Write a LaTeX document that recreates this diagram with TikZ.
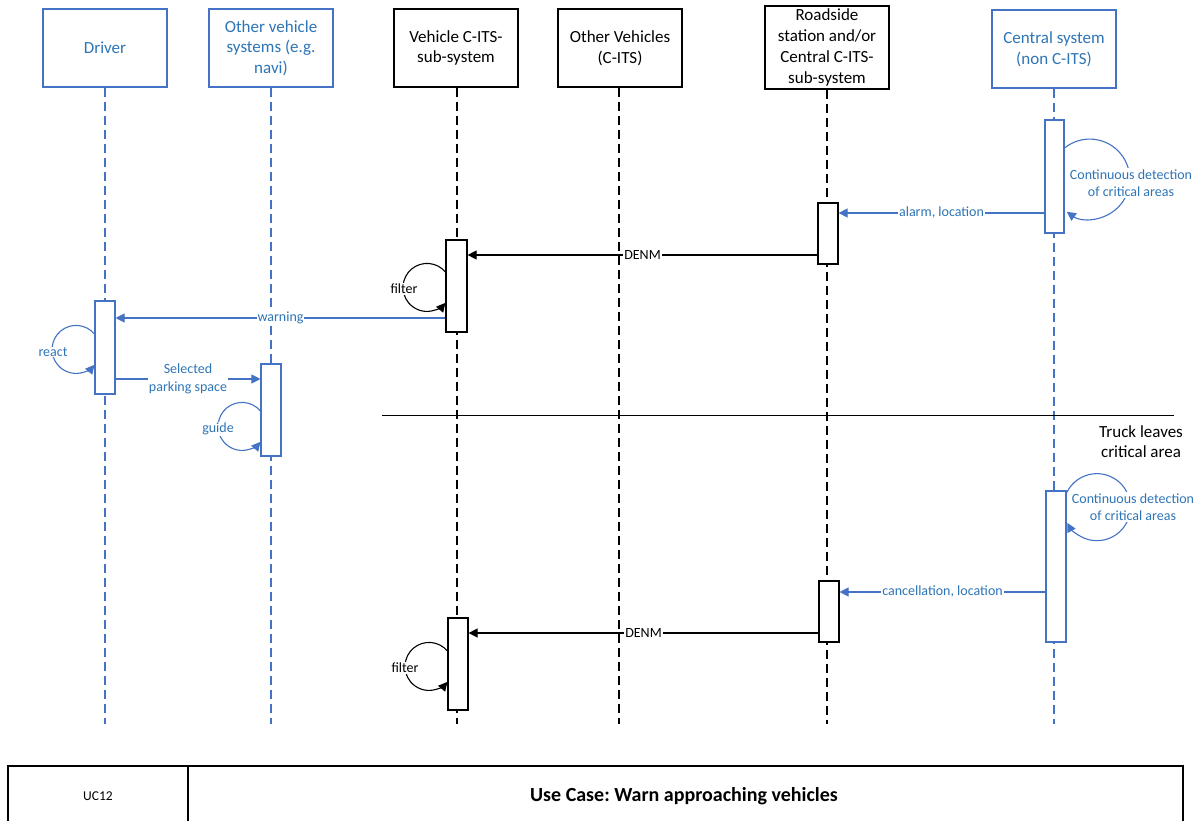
\documentclass[tikz,border=0pt]{standalone}
\usepackage{fontspec}
\setmainfont{Carlito}
\usetikzlibrary{arrows.meta}
\definecolor{lblue}{HTML}{4472C4}
\definecolor{tblue}{HTML}{2E75B6}
\frenchspacing
\begin{document}
\begin{tikzpicture}[x=1pt,y=-1pt,
  hdr/.style={draw, line width=1.2pt, minimum width=124pt, minimum height=78pt, align=center, inner sep=0pt, font=\fontsize{17}{20.7}\selectfont},
  hdrb/.style={hdr, draw=lblue, line width=1.1pt, text=tblue},
  life/.style={line width=1.2pt, dash pattern=on 9pt off 5pt},
  lifeb/.style={life, draw=lblue, line width=1.1pt},
  bar/.style={draw, fill=white, line width=1.2pt, minimum width=20pt, inner sep=0pt},
  barb/.style={bar, draw=lblue, line width=1.1pt},
  msg/.style={line width=1.2pt, -{Triangle[length=9pt,width=9pt]}},
  msgb/.style={msg, draw=lblue, line width=1.1pt},
  selfmsg/.style={line width=1.1pt, -{Triangle[length=9pt,width=9pt]}},
  selfmsgb/.style={selfmsg, draw=lblue},
  lbl/.style={fill=white, inner sep=1pt, font=\fontsize{14}{17.5}\selectfont, align=center},
  lblb/.style={lbl, text=tblue},
]
\useasboundingbox[fill=white] (0,0) rectangle (1204,821);

% header boxes
\node[hdrb] (drv) at (105,48) {Driver};
\node[hdrb] (ovs) at (271,48) {Other vehicle\\systems (e.g.\\navi)};
\node[hdr] (veh) at (456,48) {Vehicle C-ITS-\\sub-system};
\node[hdr] (ov) at (620,48) {Other Vehicles\\(C-ITS)};
\node[hdr, minimum height=83pt] (rs) at (827,47.5) {Roadside\\station and/or\\Central C-ITS-\\sub-system};
\node[hdrb] (cs) at (1054,49) {Central system\\(non C-ITS)};

% lifelines
\draw[lifeb] (drv.south) -- (drv.south |- 0,724);
\draw[lifeb] (ovs.south) -- (ovs.south |- 0,724);
\draw[life] (veh.south -| 457,0) -- (457,724);
\draw[life] (ov.south -| 619,0) -- (619,724);
\draw[life] (rs.south) -- (rs.south |- 0,724);
\draw[lifeb] (cs.south) -- (cs.south |- 0,724);

% activation bars
\node[barb, minimum width=19pt, minimum height=113pt] (cb1) at (1054.5,176.5) {};
\node[bar, minimum height=61pt] (rb1) at (828,233.5) {};
\node[bar, minimum width=21pt, minimum height=92pt] (vb1) at (456.5,286) {};
\node[barb, minimum height=93pt] (db) at (105,347.5) {};
\node[barb, minimum height=92pt] (ob) at (271,410) {};
\node[barb, minimum height=151pt] (cb2) at (1056,566.5) {};
\node[bar, minimum height=61pt] (rb2) at (829,611.5) {};
\node[bar, minimum height=92pt] (vb2) at (458,664) {};

% messages
\draw[msgb] (cb1.west |- 0,213) -- node[lblb]{alarm, location} (rb1.east |- 0,213);
\draw[msg] (rb1.west |- 0,255) -- node[lbl]{DENM} (vb1.east |- 0,255);
\draw[msgb] (vb1.west |- 0,318) -- node[lblb]{warning} (db.east |- 0,318);
\draw[msgb] (db.east |- 0,379) -- node[lblb]{Selected\\parking space} (ob.west |- 0,379);
\draw[msgb] (cb2.west |- 0,592) -- node[lblb]{cancellation, location} (rb2.east |- 0,592);
\draw[msg] (rb2.west |- 0,633) -- node[lbl]{DENM} (vb2.east |- 0,633);

% self messages
\draw[selfmsgb] (cb1.east |- 0,148) arc[start angle=129, end angle=-125, radius=40pt];
\draw[selfmsg] (vb1.west |- 0,272) arc[start angle=40, end angle=320, radius=24pt];
\draw[selfmsgb] (db.west |- 0,334) arc[start angle=40, end angle=320, radius=24pt];
\draw[selfmsgb] (ob.west |- 0,411) arc[start angle=40, end angle=320, radius=24pt];
\draw[selfmsgb] (cb2.east |- 0,493) arc[start angle=155, end angle=-152, radius=33.5pt];
\draw[selfmsg] (vb2.west |- 0,651) arc[start angle=40, end angle=320, radius=24pt];

\node[lblb] (cd1) at (1131,183) {Continuous detection\\of critical areas};
\node[lblb] (cd2) at (1133,507) {Continuous detection\\of critical areas};
\node[lbl] (f1) at (404,289) {filter};
\node[lblb] (rc) at (53,352) {react};
\node[lblb] (gd) at (218,429) {guide};
\node[lbl] (f2) at (405,668) {filter};

% separator
\coordinate (sepL) at (382,415);
\coordinate (sepR) at (1174,415);
\draw[line width=1pt] (sepL) -- (sepR);
\node[align=center, font=\fontsize{17}{20}\selectfont] (tl) at (1141,442) {Truck leaves\\critical area};

% table
\draw[line width=1.3pt] (8,821) |- (1183,766) -- (1183,821);
\draw[line width=1.3pt] (188,766) -- (188,821);
\node[font=\fontsize{13.5}{16}\selectfont] (uc) at (98,796) {UC12};
\node[font=\fontsize{20}{24}\selectfont\bfseries] (ttl) at (684,796) {Use Case: Warn approaching vehicles};
\end{tikzpicture}
\end{document}
